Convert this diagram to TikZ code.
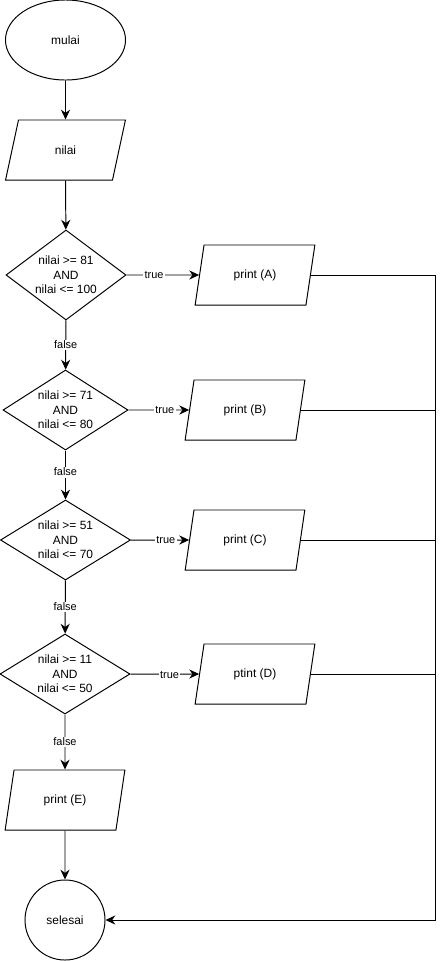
\documentclass[tikz,border=0pt]{standalone}
\usepackage{fontspec}
\setmainfont{Liberation Sans}
\usetikzlibrary{shapes}
\usetikzlibrary{shapes.geometric}
\usetikzlibrary{arrows.meta}
\tikzset{
    mynodee/.style = {ellipse, line width=0.7pt, draw=black, align=center, fill=white, minimum width=3cm, minimum height=2cm, inner sep=0pt, font=\fontsize{8.5}{10.2}\selectfont, text=black},
    mynodec/.style = {circle, line width=0.7pt, draw=black, align=center, fill=white, minimum size=2cm, inner sep=0pt, font=\fontsize{8.5}{10.2}\selectfont, text=black},
    mynodep/.style = {trapezium, trapezium left angle=71.57, trapezium right angle=108.43, trapezium stretches=true, line width=0.7pt, draw=black, align=center, fill=white, minimum width=3cm, minimum height=1.5cm, inner sep=0pt, font=\fontsize{8.5}{10.2}\selectfont, text=black},
    mynoded/.style = {diamond, aspect=1.6, line width=0.7pt, draw=black, align=center, fill=white, minimum width=#1, minimum height=2cm, inner sep=-4pt, font=\fontsize{8.5}{10.2}\selectfont, text=black},
    mynoded/.default = 3.25cm,
    edgen/.style = {-{Stealth[length=7pt,width=6.5pt]}, line width=0.7pt, black},
    edgel/.style = {-, line width=0.7pt, black}, % back to selesai
    lbl/.style = {fill=white, inner sep=1pt, font=\fontsize{7.8}{9}\selectfont, text=black}
}

\begin{document}
\begin{tikzpicture}[x=0.025cm, y=-0.025cm]
\useasboundingbox (0,0) rectangle (444,961);
\node[mynodee] at ( 65.5,  40) (mulai) {mulai};
\node[mynodep] at ( 65.5, 150) (nilai) {nilai};
\node[mynoded={3cm}, aspect=1.33, minimum height=2.25cm] at ( 66, 275) (d1) {nilai >= 81\\AND\\nilai <= 100};
\node[mynodep] at (255, 275) (pa) {print (A)};
\node[mynoded={3.125cm}] at ( 65.5, 410) (d2) {nilai >= 71\\AND\\nilai <= 80};
\node[mynodep] at (245, 410) (pb) {print (B)};
\node[mynoded] at ( 65.5, 540) (d3) {nilai >= 51\\AND\\nilai <= 70};
\node[mynodep] at (245, 540) (pc) {print (C)};
\node[mynoded] at ( 65, 674) (d4) {nilai >= 11\\AND\\nilai <= 50};
\node[mynodep] at (255, 674) (pd) {ptint (D)};
\node[mynodep] at ( 65, 800) (pe) {print (E)};
\node[mynodec] at ( 65, 920) (selesai) {selesai};
\coordinate (r) at (435, 920);

\draw[edgen] (mulai) -- (nilai);
\draw[edgen] (nilai) -- (d1);
\draw[edgen] (d1) -- node[lbl, pos=0.38] {true} (pa);
\draw[edgen] (d1) -- node[lbl] {false} (d2);
\draw[edgen] (d2) -- node[lbl, pos=0.6] {true} (pb);
\draw[edgen] (d2) -- node[lbl, pos=0.44] {false} (d3);
\draw[edgen] (d3) -- node[lbl, pos=0.6] {true} (pc);
\draw[edgen] (d3) -- node[lbl] {false} (d4);
\draw[edgen] (d4) -- node[lbl, pos=0.57, yshift=-1pt] {true} (pd);
\draw[edgen] (d4) -- node[lbl] {false} (pe);
\draw[edgen] (pe) -- (selesai);

\draw[edgen] (pa.east) -| (r) -- (selesai);
\draw[edgel] (pb.east) -- (pb.east -| r);
\draw[edgel] (pc.east) -- (pc.east -| r);
\draw[edgel] (pd.east) -- (pd.east -| r);

\end{tikzpicture}
\end{document}
